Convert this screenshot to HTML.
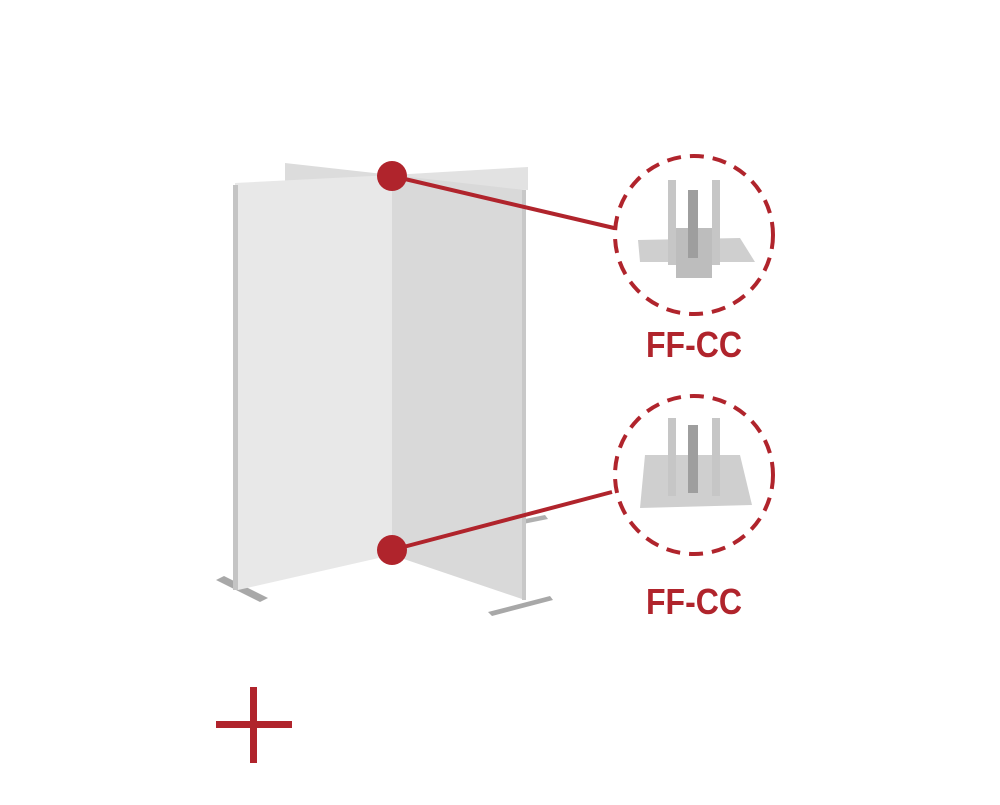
<!DOCTYPE html>
<html><head><style>body{margin:0;background:#fff}</style></head><body>
<svg width="1000" height="800" viewBox="0 0 1000 800" xmlns="http://www.w3.org/2000/svg">
<rect width="1000" height="800" fill="#fff"/>
<polygon points="285,163 392,175 392,185 285,185" fill="#dcdcdc"/>
<polygon points="392,175 528,167 528,190 392,185" fill="#e2e2e2"/>
<polygon points="216,580 224,576 268,598 260,602" fill="#a8a8a8"/>
<polygon points="488,612 550,596 553,600 492,616" fill="#a8a8a8"/>
<polygon points="520,520 545,515 548,519 523,524" fill="#b0b0b0"/>
<polygon points="235,183 392,175 392,555 238,590" fill="#e8e8e8"/>
<rect x="233" y="185" width="5" height="405" fill="#c4c4c4"/>
<polygon points="392,175 525,190 525,600 392,555" fill="#d9d9d9"/>
<rect x="522" y="190" width="4" height="410" fill="#c8c8c8"/>
<line x1="392" y1="176" x2="614" y2="228" stroke="#b0242c" stroke-width="4"/>
<line x1="392" y1="550" x2="612" y2="492" stroke="#b0242c" stroke-width="4"/>
<circle cx="392" cy="176" r="15" fill="#b0242c"/>
<circle cx="392" cy="550" r="15" fill="#b0242c"/>
<circle cx="694" cy="235" r="79" fill="none" stroke="#b0242c" stroke-width="4" stroke-dasharray="14,9"/>
<circle cx="694" cy="475" r="79" fill="none" stroke="#b0242c" stroke-width="4" stroke-dasharray="14,9"/>
<polygon points="638,240 740,238 755,262 640,262" fill="#cfcfcf"/>
<rect x="676" y="228" width="36" height="50" fill="#bdbdbd"/>
<rect x="668" y="180" width="8" height="85" fill="#c6c6c6"/>
<rect x="712" y="180" width="8" height="85" fill="#c6c6c6"/>
<rect x="688" y="190" width="10" height="68" fill="#9e9e9e"/>
<polygon points="645,455 740,455 752,505 640,508" fill="#cfcfcf"/>
<rect x="668" y="418" width="8" height="78" fill="#c6c6c6"/>
<rect x="712" y="418" width="8" height="78" fill="#c6c6c6"/>
<rect x="688" y="425" width="10" height="68" fill="#9e9e9e"/>
<text x="646" y="357" textLength="96" lengthAdjust="spacingAndGlyphs" font-family="Liberation Sans, sans-serif" font-weight="bold" font-size="36" fill="#b0242c">FF-CC</text>
<text x="646" y="614" textLength="96" lengthAdjust="spacingAndGlyphs" font-family="Liberation Sans, sans-serif" font-weight="bold" font-size="36" fill="#b0242c">FF-CC</text>
<rect x="216" y="721" width="76" height="7" fill="#b0242c"/>
<rect x="250" y="687" width="7" height="76" fill="#b0242c"/>
</svg>
</body></html>
